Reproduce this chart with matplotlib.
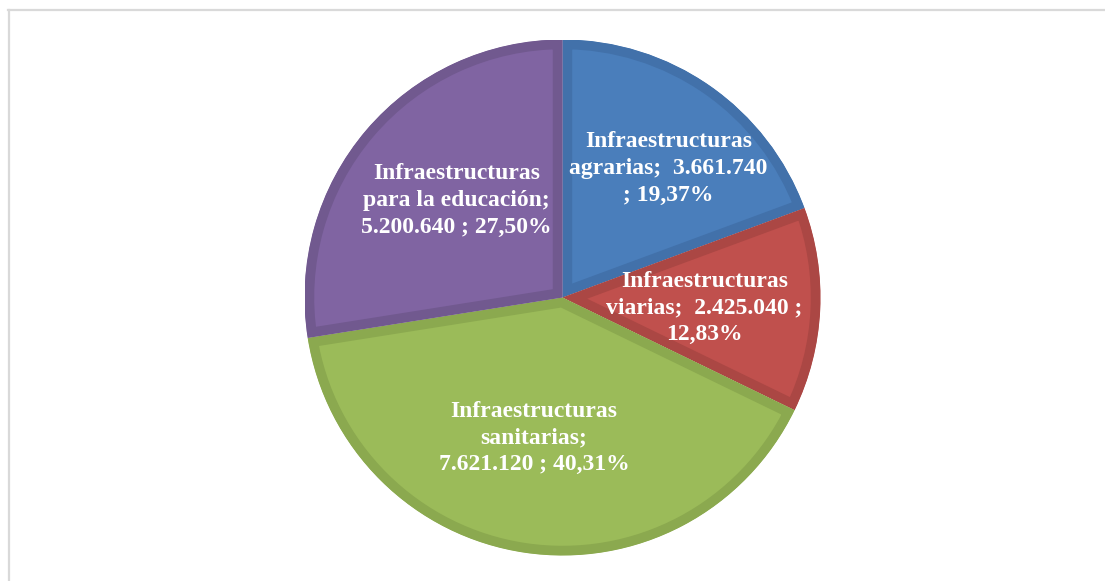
import matplotlib
matplotlib.use("Agg")
from matplotlib import pyplot as plt
from matplotlib.lines import Line2D

# Data
names = ["Infraestructuras\nagrarias",
         "Infraestructuras\nviarias",
         "Infraestructuras\nsanitarias",
         "Infraestructuras\npara la educación"]
values = [3661740, 2425040, 7621120, 5200640]
sep_value = ["  ", "  ", "\n", "\n"]
sep_pct = ["\n; ", " ;\n", " ; ", " ; "]

fill_colors = ["#4A7EBB", "#C0504D", "#9BBB59", "#8064A2"]
edge_colors = ["#4271AA", "#AB4744", "#8BA94F", "#71598F"]

# label centres in pie units (radius 1)
label_pos = [(0.41, 0.50), (0.55, -0.04), (-0.11, -0.545), (-0.41, 0.375)]


def fmt_num(v):
    return "{:,}".format(v).replace(",", ".")


total = sum(values)
labels = []
for i in range(len(values)):
    pct = "{:.2f}%".format(values[i] / total * 100).replace(".", ",")
    labels.append(names[i] + ";" + sep_value[i] + fmt_num(values[i]) + sep_pct[i] + pct)

W, H = 1105, 581
fig = plt.figure(figsize=(W / 100, H / 100), dpi=100)

# light grey frame (top and left)
fig.add_artist(Line2D([8 / W, 1104 / W], [1 - 10 / H, 1 - 10 / H], color="#D9D9D9", lw=1.6))
fig.add_artist(Line2D([8.5 / W, 8.5 / W], [0, 1 - 10 / H], color="#D9D9D9", lw=1.6))

cx, cy, r = 562.5, 297.5, 258
ax = fig.add_axes([(cx - r) / W, (H - cy - r) / H, 2 * r / W, 2 * r / H])

wedges, _ = ax.pie(values, startangle=90, counterclock=False, radius=1,
                   colors=fill_colors)
# darker inner band along each slice edge
for w, ec in zip(wedges, edge_colors):
    w.set_edgecolor(ec)
    w.set_linewidth(14)
    w.set_clip_on(True)
    w.set_clip_path(w)

for (x, y), lab in zip(label_pos, labels):
    ax.text(x, y, lab, ha="center", va="center", color="white",
            fontsize=17, fontweight="bold", family="Liberation Serif",
            linespacing=1.36)

ax.set_xlim(-1, 1)
ax.set_ylim(-1, 1)
ax.set_aspect("equal")
ax.axis("off")

fig.savefig("out.png", dpi=100)
